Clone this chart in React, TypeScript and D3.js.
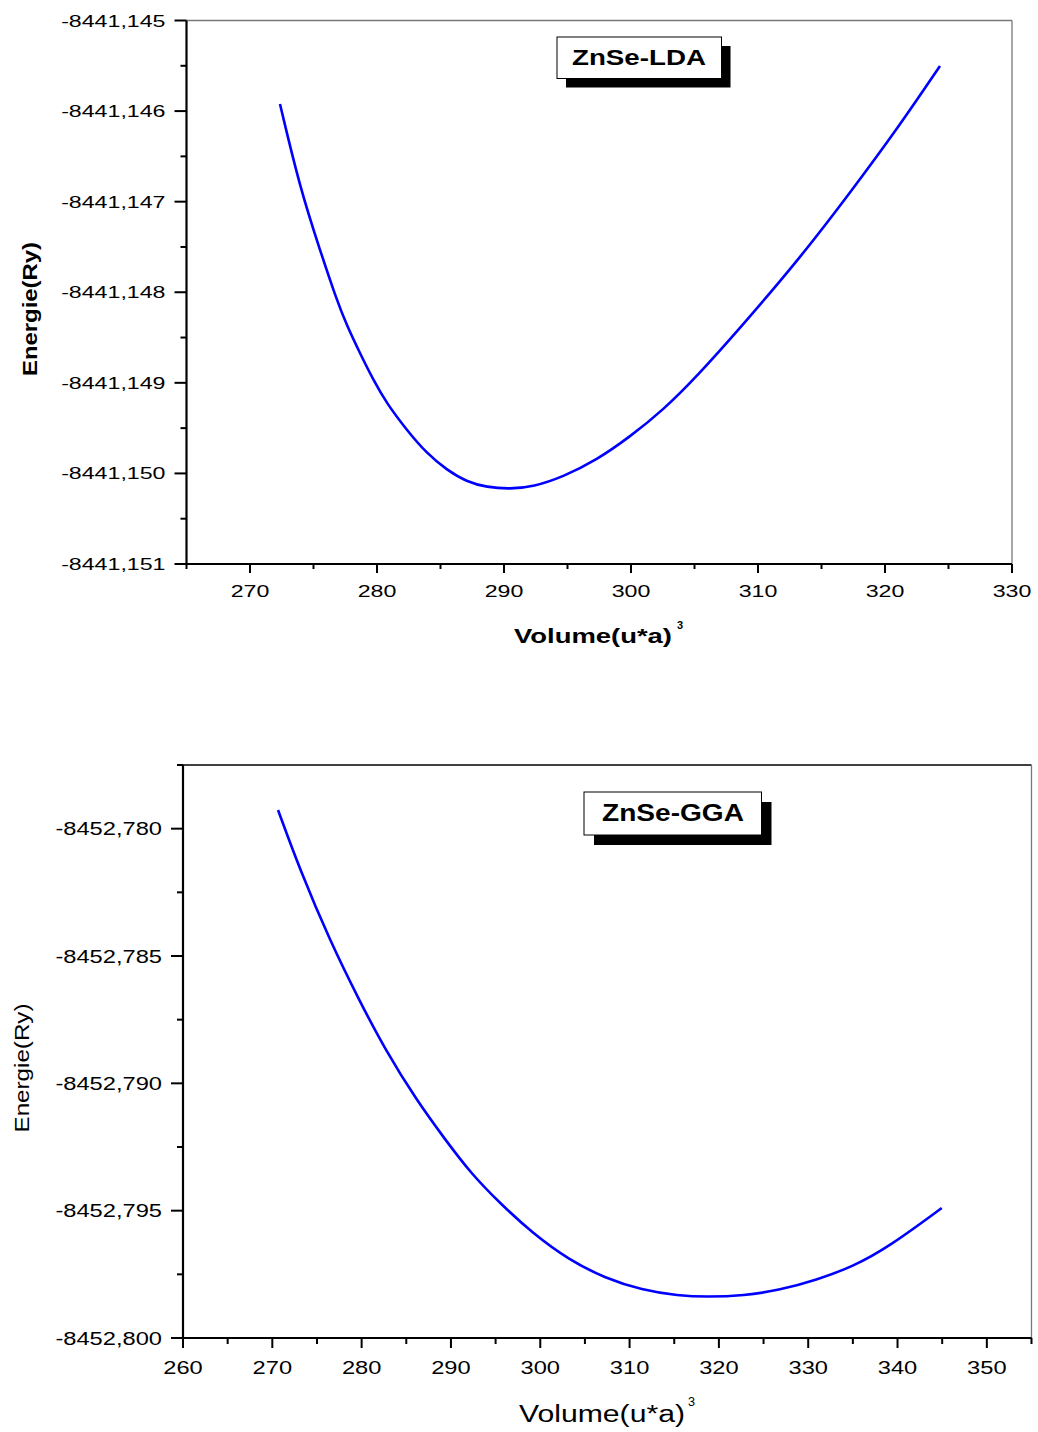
import React from "react";
import * as d3 from "d3";

// ---- Data: ZnSe-LDA ----
const ldaVolume = [272.36, 273.94, 275.51, 276.83, 277.61, 278.66, 279.71, 280.76, 282.34, 283.91, 285.49, 287.06, 288.64, 290.47, 292.31, 294.67, 297.30, 299.92, 302.54, 305.17, 308.58, 313.31, 317.24, 321.18, 324.33];
const ldaEnergy = [-8441.145922, -8441.146849, -8441.147534, -8441.148086, -8441.148362, -8441.148674, -8441.148969, -8441.149226, -8441.149521, -8441.149778, -8441.149962, -8441.150092, -8441.150153, -8441.150172, -8441.150147, -8441.150036, -8441.149852, -8441.149595, -8441.149300, -8441.148932, -8441.148398, -8441.147622, -8441.146904, -8441.146154, -8441.145502];

// ---- Data: ZnSe-GGA ----
const ggaVolume = [270.64, 273.10, 276.46, 279.82, 282.67, 286.13, 289.39, 292.23, 295.49, 299.15, 303.23, 307.30, 311.37, 315.44, 318.70, 322.76, 326.84, 330.91, 334.98, 339.05, 344.95];
const ggaEnergy = [-8452.779267, -8452.781623, -8452.784411, -8452.786806, -8452.788691, -8452.790654, -8452.792225, -8452.793533, -8452.794711, -8452.795889, -8452.796937, -8452.797656, -8452.798115, -8452.798339, -8452.798390, -8452.798339, -8452.798115, -8452.797723, -8452.797200, -8452.796415, -8452.794895];

const ldaXTicks = [270, 280, 290, 300, 310, 320, 330];
const ldaYTicks = [-8441.145, -8441.146, -8441.147, -8441.148, -8441.149, -8441.150, -8441.151];
const ggaXTicks = [260, 270, 280, 290, 300, 310, 320, 330, 340, 350];
const ggaYTicks = [-8452.780, -8452.785, -8452.790, -8452.795, -8452.800];

const ldaLabel = "ZnSe-LDA";
const ggaLabel = "ZnSe-GGA";
const yTitle = "Energie(Ry)";
const xTitle = "Volume(u*a)";

const FONT = "'Liberation Sans', Arial, sans-serif";

function fmtComma(v: number, digits: number) {
  return v.toFixed(digits).replace(".", ",");
}

type PanelProps = {
  vol: number[];
  en: number[];
  xDomain: [number, number];
  yDomain: [number, number];
  left: number; right: number; top: number; bottom: number;
  xTicks: number[]; xMinorStep: number;
  yTicks: number[]; yMinorStep: number; yDigits: number;
  tickFont: number; tickStretch: number;
  bold: boolean;
  label: string;
  legend: { x0: number; y0: number; x1: number; y1: number; shadow: number; tx: number; ty: number; tw: number; fs: number };
  yTitleProps: { x: number; y: number; len: number; fs: number };
  xTitleProps: { x: number; y: number; len: number; fs: number; supX: number; supY: number };
  frameColor: string;
  xLabelY: number;
  xMajorLen: number; xMinorLen: number;
};

function Panel(p: PanelProps) {
  const x = d3.scaleLinear().domain(p.xDomain).range([p.left, p.right]);
  const y = d3.scaleLinear().domain(p.yDomain).range([p.bottom, p.top]);
  const pts = p.vol.map((v, i) => [v, p.en[i]] as [number, number]);
  const line = d3
    .line<[number, number]>()
    .x((d) => x(d[0]))
    .y((d) => y(d[1]))
    .curve(d3.curveBasis);

  const xMinor = d3.range(p.xDomain[0], p.xDomain[1] + 1e-9, p.xMinorStep).filter(
    (v) => !p.xTicks.some((t) => Math.abs(t - v) < 1e-6)
  );
  const yLo = Math.min(...p.yDomain);
  const yHi = Math.max(...p.yDomain);
  const yMinor: number[] = [];
  for (let k = Math.ceil(yLo / p.yMinorStep - 1e-6); k * p.yMinorStep <= yHi + 1e-9; k++) {
    const v = k * p.yMinorStep;
    if (!p.yTicks.some((t) => Math.abs(t - v) < p.yMinorStep / 10)) yMinor.push(v);
  }
  const fw = p.bold ? "bold" : "normal";

  return (
    <g fontFamily={FONT}>
      <line x1={p.left} x2={p.right} y1={p.top} y2={p.top} stroke={p.frameColor} strokeWidth={1.3} />
      <line x1={p.right} x2={p.right} y1={p.top} y2={p.bottom} stroke="#777" strokeWidth={1.3} />
      <path d={line(pts) || ""} fill="none" stroke="#0000ff" strokeWidth={2.6} />
      <line x1={p.left} x2={p.left} y1={p.top} y2={p.bottom + 1} stroke="#000" strokeWidth={2.2} />
      <line x1={p.left - 1} x2={p.right} y1={p.bottom} y2={p.bottom} stroke="#000" strokeWidth={2.2} />
      {p.xTicks.map((t) => (
        <g key={"xt" + t}>
          <line x1={x(t)} x2={x(t)} y1={p.bottom} y2={p.bottom + p.xMajorLen} stroke="#000" strokeWidth={2} />
          <text
            transform={`translate(${x(t)},${p.xLabelY}) scale(${p.tickStretch},1)`}
            textAnchor="middle"
            fontSize={p.tickFont}
            fill="#000"
          >
            {String(t)}
          </text>
        </g>
      ))}
      {xMinor.map((t) => (
        <line key={"xm" + t} x1={x(t)} x2={x(t)} y1={p.bottom} y2={p.bottom + p.xMinorLen} stroke="#000" strokeWidth={2} />
      ))}
      {p.yTicks.map((t) => (
        <g key={"yt" + t}>
          <line x1={p.left - 12} x2={p.left} y1={y(t)} y2={y(t)} stroke="#000" strokeWidth={2} />
          <text
            transform={`translate(${p.left - 21},${y(t) + p.tickFont * 0.36}) scale(${p.tickStretch},1)`}
            textAnchor="end"
            fontSize={p.tickFont}
            fill="#000"
          >
            {fmtComma(t, p.yDigits)}
          </text>
        </g>
      ))}
      {yMinor.map((t) => (
        <line key={"ym" + t} x1={p.left - 6} x2={p.left} y1={y(t)} y2={y(t)} stroke="#000" strokeWidth={2} />
      ))}
      <rect
        x={p.legend.x0 + p.legend.shadow}
        y={p.legend.y0 + p.legend.shadow}
        width={p.legend.x1 - p.legend.x0}
        height={p.legend.y1 - p.legend.y0}
        fill="#000"
      />
      <rect
        x={p.legend.x0}
        y={p.legend.y0}
        width={p.legend.x1 - p.legend.x0}
        height={p.legend.y1 - p.legend.y0}
        fill="#fff"
        stroke="#000"
        strokeWidth={1}
      />
      <text
        x={p.legend.tx}
        y={p.legend.ty}
        textAnchor="middle"
        fontSize={p.legend.fs}
        fontWeight="bold"
        textLength={p.legend.tw}
        lengthAdjust="spacingAndGlyphs"
        fill="#000"
      >
        {p.label}
      </text>
      <text
        transform={`translate(${p.yTitleProps.x},${p.yTitleProps.y}) rotate(-90)`}
        textAnchor="middle"
        fontSize={p.yTitleProps.fs}
        fontWeight={fw}
        textLength={p.yTitleProps.len}
        lengthAdjust="spacingAndGlyphs"
        fill="#000"
      >
        {yTitle}
      </text>
      <text
        x={p.xTitleProps.x}
        y={p.xTitleProps.y}
        textAnchor="start"
        fontSize={p.xTitleProps.fs}
        fontWeight={fw}
        textLength={p.xTitleProps.len}
        lengthAdjust="spacingAndGlyphs"
        fill="#000"
      >
        {xTitle}
      </text>
      <text
        x={p.xTitleProps.supX}
        y={p.xTitleProps.supY}
        fontSize={p.xTitleProps.fs * 0.55}
        fontWeight={fw}
        fill="#000"
      >
        3
      </text>
    </g>
  );
}

export default function App() {
  return (
    <div style={{ position: "absolute", left: 0, top: 0, width: 1038, height: 1432, background: "#fff" }}>
      <svg width={1038} height={1432} style={{ display: "block" }}>
        <rect x={0} y={0} width={1038} height={1432} fill="#fff" />
        <Panel
          vol={ldaVolume}
          en={ldaEnergy}
          xDomain={[265, 330]}
          yDomain={[-8441.151, -8441.145]}
          left={186.5}
          right={1012}
          top={20.5}
          bottom={564}
          xTicks={ldaXTicks}
          xMinorStep={5}
          yTicks={ldaYTicks}
          yMinorStep={0.0005}
          yDigits={3}
          tickFont={16.8}
          tickStretch={1.38}
          bold={true}
          label={ldaLabel}
          legend={{ x0: 557, y0: 37, x1: 721.5, y1: 78.5, shadow: 9, tx: 639, ty: 65, tw: 134, fs: 22 }}
          yTitleProps={{ x: 37, y: 309, len: 134, fs: 20 }}
          xTitleProps={{ x: 514, y: 643, len: 158, fs: 20, supX: 677, supY: 629 }}
          frameColor="#777"
          xLabelY={597}
          xMajorLen={9}
          xMinorLen={5}
        />
        <Panel
          vol={ggaVolume}
          en={ggaEnergy}
          xDomain={[260, 355]}
          yDomain={[-8452.8, -8452.7775]}
          left={183}
          right={1031.5}
          top={765}
          bottom={1338}
          xTicks={ggaXTicks}
          xMinorStep={5}
          yTicks={ggaYTicks}
          yMinorStep={0.0025}
          yDigits={3}
          tickFont={18.5}
          tickStretch={1.28}
          bold={false}
          label={ggaLabel}
          legend={{ x0: 584, y0: 792, x1: 761.5, y1: 835, shadow: 10, tx: 673, ty: 821, tw: 142, fs: 23 }}
          yTitleProps={{ x: 29, y: 1068, len: 129, fs: 20 }}
          xTitleProps={{ x: 519, y: 1422, len: 166, fs: 23, supX: 688, supY: 1406 }}
          frameColor="#000"
          xLabelY={1374}
          xMajorLen={10}
          xMinorLen={6}
        />
      </svg>
    </div>
  );
}
